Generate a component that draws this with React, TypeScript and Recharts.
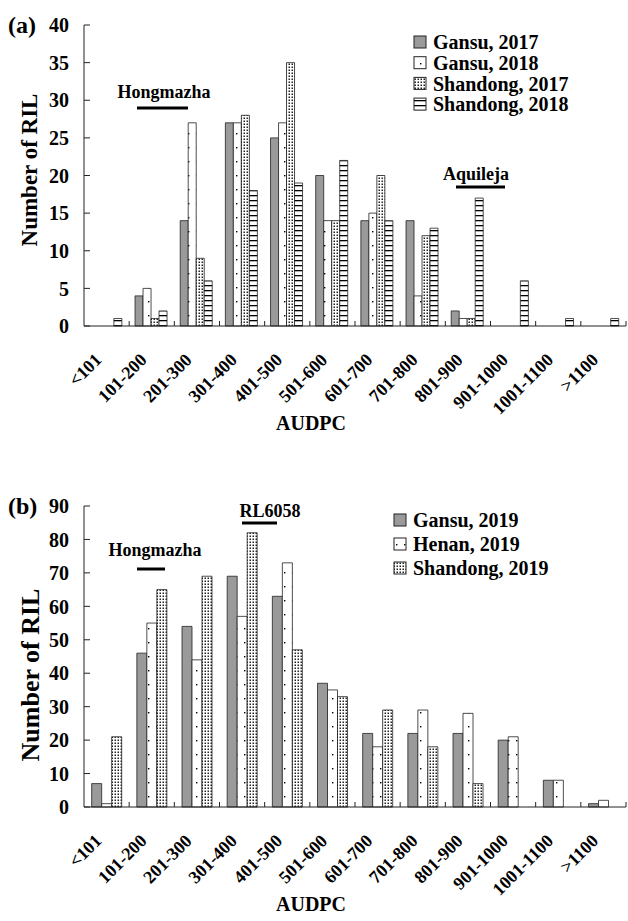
import React from 'react'
import { BarChart, Bar, XAxis, YAxis } from 'recharts'

const FUENTE = '"Liberation Serif", "Times New Roman", serif'

const categorias = [
  '<101', '101-200', '201-300', '301-400', '401-500', '501-600',
  '601-700', '701-800', '801-900', '901-1000', '1001-1100', '>1100',
]

// (a) 2017-2018
const gansu2017 = [0, 4, 14, 27, 25, 20, 14, 14, 2, 0, 0, 0]
const gansu2018 = [0, 5, 27, 27, 27, 14, 15, 4, 1, 0, 0, 0]
const shandong2017 = [0, 1, 9, 28, 35, 14, 20, 12, 1, 0, 0, 0]
const shandong2018 = [1, 2, 6, 18, 19, 22, 14, 13, 17, 6, 1, 1]
const ticksA = [0, 5, 10, 15, 20, 25, 30, 35, 40]

// (b) 2019
const gansu2019 = [7, 46, 54, 69, 63, 37, 22, 22, 22, 20, 8, 1]
const henan2019 = [1, 55, 44, 57, 73, 35, 18, 29, 28, 21, 8, 2]
const shandong2019 = [21, 65, 69, 82, 47, 33, 29, 18, 7, 0, 0, 0]
const ticksB = [0, 10, 20, 30, 40, 50, 60, 70, 80, 90]

const datosA = categorias.map((c, i) => ({
  cat: c,
  g17: gansu2017[i],
  g18: gansu2018[i],
  s17: shandong2017[i],
  s18: shandong2018[i],
}))

const datosB = categorias.map((c, i) => ({
  cat: c,
  g19: gansu2019[i],
  h19: henan2019[i],
  s19: shandong2019[i],
}))

const ANCHO = 628
const IZQ = 84
const DER = 626
const BANDA = (DER - IZQ) / categorias.length
const TINTA = '#222'
const GRIS = '#9a9a9a'

const RELLENO = {
  gris: GRIS,
  puntos: 'url(#puntos)',
  denso: 'url(#denso)',
  rayas: 'url(#rayas)',
}

function TickX(props: any) {
  const { x, y, payload } = props
  const tx = x - 4
  const ty = y + 35
  return (
    <g>
      <line x1={x + BANDA / 2} x2={x + BANDA / 2} y1={y} y2={y - 5} stroke={TINTA} />
      <text
        x={tx}
        y={ty}
        transform={`rotate(-45 ${tx} ${ty})`}
        textAnchor="end"
        fontFamily={FUENTE}
        fontWeight="bold"
        fontSize={18}
        fill="#000"
      >
        {payload.value}
      </text>
    </g>
  )
}

function TickY(props: any) {
  const { x, y, payload } = props
  return (
    <g>
      <line x1={x} x2={x + 6} y1={y} y2={y} stroke={TINTA} />
      <text
        x={x - 15}
        y={y}
        dy="0.36em"
        textAnchor="end"
        fontFamily={FUENTE}
        fontWeight="bold"
        fontSize={20}
        fill="#000"
      >
        {payload.value}
      </text>
    </g>
  )
}

const txt = { fontFamily: FUENTE, fontWeight: 'bold' as const, fill: '#000' }

function Panel({
  top,
  letra,
  tituloY,
  leyenda,
  legX,
  legY,
  legPaso,
  notas,
}: {
  top: number
  letra: string
  tituloY: { cy: number; size: number }
  leyenda: { nombre: string; fill: string }[]
  legX: number
  legY: number
  legPaso: number
  notas: { texto: string; cx: number; ty: number; x1: number; x2: number; ly: number }[]
}) {
  return (
    <svg
      width={ANCHO}
      height={440}
      style={{ position: 'absolute', left: 0, top, pointerEvents: 'none' }}
    >
      <text x={8} y={33} fontSize={24} {...txt}>
        {letra}
      </text>
      <text
        x={0}
        y={0}
        transform={`translate(${21 + tituloY.size * 0.68} ${tituloY.cy}) rotate(-90)`}
        textAnchor="middle"
        fontSize={tituloY.size}
        {...txt}
      >
        Number of RIL
      </text>
      <text x={311} y={430} textAnchor="middle" fontSize={20} {...txt}>
        AUDPC
      </text>
      {leyenda.map((l, i) => (
        <g key={l.nombre}>
          <rect
            x={legX}
            y={legY + i * legPaso - 6}
            width={12}
            height={12}
            fill={l.fill}
            stroke={TINTA}
            strokeWidth={1}
          />
          <text x={legX + 19} y={legY + i * legPaso} dy="0.36em" fontSize={20} {...txt}>
            {l.nombre}
          </text>
        </g>
      ))}
      {notas.map((n) => (
        <g key={n.texto}>
          <text x={n.cx} y={n.ty} textAnchor="middle" fontSize={18} {...txt}>
            {n.texto}
          </text>
          <line x1={n.x1} x2={n.x2} y1={n.ly} y2={n.ly} stroke="#000" strokeWidth={3} />
        </g>
      ))}
    </svg>
  )
}

export default function App() {
  return (
    <div
      style={{
        position: 'absolute',
        left: 0,
        top: 0,
        width: ANCHO,
        height: 921,
        background: '#fff',
        overflow: 'hidden',
      }}
    >
      <svg width={0} height={0} style={{ position: 'absolute' }}>
        <defs>
          <pattern id="puntos" width={8} height={14} patternUnits="userSpaceOnUse">
            <rect width={8} height={14} fill="#fff" />
            <rect x={4} y={7} width={1.4} height={1.4} fill="#000" />
          </pattern>
          <pattern id="denso" width={3} height={3} patternUnits="userSpaceOnUse">
            <rect width={3} height={3} fill="#fff" />
            <rect x={0.5} y={0.5} width={1.5} height={1.5} fill="#222" />
          </pattern>
          <pattern id="rayas" width={8} height={5} patternUnits="userSpaceOnUse">
            <rect width={8} height={5} fill="#fff" />
            <rect x={0} y={0} width={8} height={1.3} fill="#000" />
          </pattern>
        </defs>
      </svg>

      {/* (a) */}
      <div style={{ position: 'absolute', left: 0, top: 0 }}>
        <BarChart
          width={ANCHO}
          height={440}
          data={datosA}
          margin={{ top: 25, right: ANCHO - DER, left: IZQ - 60, bottom: 14 }}
          barCategoryGap="13%"
          barGap={0}
        >
          <XAxis
            dataKey="cat"
            height={100}
            interval={0}
            tickLine={false}
            tickSize={0}
            tickMargin={0}
            tick={<TickX />}
            axisLine={{ stroke: TINTA }}
          />
          <YAxis
            width={60}
            domain={[0, 40]}
            ticks={ticksA}
            interval={0}
            tickLine={false}
            tickSize={0}
            tickMargin={0}
            tick={<TickY />}
            axisLine={{ stroke: TINTA }}
          />
          <Bar dataKey="g17" fill={RELLENO.gris} stroke={TINTA} strokeWidth={0.8} isAnimationActive={false} />
          <Bar dataKey="g18" fill={RELLENO.puntos} stroke={TINTA} strokeWidth={0.8} isAnimationActive={false} />
          <Bar dataKey="s17" fill={RELLENO.denso} stroke={TINTA} strokeWidth={0.8} isAnimationActive={false} />
          <Bar dataKey="s18" fill={RELLENO.rayas} stroke={TINTA} strokeWidth={0.8} isAnimationActive={false} />
        </BarChart>
      </div>
      <Panel
        top={0}
        letra="(a)"
        tituloY={{ cy: 170, size: 23 }}
        legX={414}
        legY={42}
        legPaso={20.7}
        leyenda={[
          { nombre: 'Gansu, 2017', fill: RELLENO.gris },
          { nombre: 'Gansu, 2018', fill: RELLENO.puntos },
          { nombre: 'Shandong, 2017', fill: RELLENO.denso },
          { nombre: 'Shandong, 2018', fill: RELLENO.rayas },
        ]}
        notas={[
          { texto: 'Hongmazha', cx: 164, ty: 98, x1: 137, x2: 188, ly: 108 },
          { texto: 'Aquileja', cx: 476, ty: 180, x1: 456, x2: 505, ly: 187 },
        ]}
      />

      {/* (b) */}
      <div style={{ position: 'absolute', left: 0, top: 481 }}>
        <BarChart
          width={ANCHO}
          height={440}
          data={datosB}
          margin={{ top: 25, right: ANCHO - DER, left: IZQ - 60, bottom: 14 }}
          barCategoryGap="17%"
          barGap={0}
        >
          <XAxis
            dataKey="cat"
            height={100}
            interval={0}
            tickLine={false}
            tickSize={0}
            tickMargin={0}
            tick={<TickX />}
            axisLine={{ stroke: TINTA }}
          />
          <YAxis
            width={60}
            domain={[0, 90]}
            ticks={ticksB}
            interval={0}
            tickLine={false}
            tickSize={0}
            tickMargin={0}
            tick={<TickY />}
            axisLine={{ stroke: TINTA }}
          />
          <Bar dataKey="g19" fill={RELLENO.gris} stroke={TINTA} strokeWidth={0.8} isAnimationActive={false} />
          <Bar dataKey="h19" fill={RELLENO.puntos} stroke={TINTA} strokeWidth={0.8} isAnimationActive={false} />
          <Bar dataKey="s19" fill={RELLENO.denso} stroke={TINTA} strokeWidth={0.8} isAnimationActive={false} />
        </BarChart>
      </div>
      <Panel
        top={481}
        letra="(b)"
        tituloY={{ cy: 194, size: 26 }}
        legX={394}
        legY={39}
        legPaso={24}
        leyenda={[
          { nombre: 'Gansu, 2019', fill: RELLENO.gris },
          { nombre: 'Henan, 2019', fill: RELLENO.puntos },
          { nombre: 'Shandong, 2019', fill: RELLENO.denso },
        ]}
        notas={[
          { texto: 'Hongmazha', cx: 155, ty: 75, x1: 137, x2: 165, ly: 88 },
          { texto: 'RL6058', cx: 270, ty: 36, x1: 242, x2: 277, ly: 42 },
        ]}
      />
    </div>
  )
}
